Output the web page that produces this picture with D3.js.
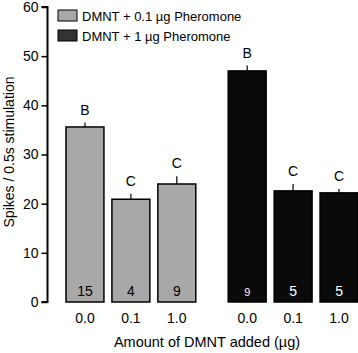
<!DOCTYPE html>
<html>
<head>
<script src="https://d3js.org/d3.v7.min.js"></script>
<style>
  body { margin: 0; background: #fff; }
  text { font-family: "Liberation Sans", Arial, sans-serif; fill: #000; }
</style>
</head>
<body>
<svg class="chart"></svg>
<script>
var svgWidth = 358, svgHeight = 353;

// data
var groups = ["0.1", "1"];
var groupNames = ["DMNT + 0.1 \u00b5g Pheromone", "DMNT + 1 \u00b5g Pheromone"];
var doses = ["0.0", "0.1", "1.0"];
var means = [[35.6, 20.9, 24.0], [47.0, 22.6, 22.2]];
var errors = [[0.9, 1.1, 1.6], [1.1, 1.4, 0.8]];
var letters = [["B", "C", "C"], ["B", "C", "C"]];
var counts = [["15", "4", "9"], ["9", "5", "5"]];
var yTicks = [0, 10, 20, 30, 40, 50, 60];
var colors = ["#a8a8a8", "#0a0a0a"];

var rows = [];
groups.forEach(function (g, gi) {
  doses.forEach(function (d, di) {
    rows.push({ group: g, gi: gi, dose: d, mean: means[gi][di], err: errors[gi][di],
                letter: letters[gi][di], n: counts[gi][di] });
  });
});

var svg = d3.select(".chart").attr("width", svgWidth).attr("height", svgHeight);

var yScale = d3.scaleLinear().domain([0, 60]).range([302, 7]);
var xOuter = d3.scaleBand().domain(groups).range([66, 358]).paddingInner(0.2).paddingOuter(0);
var xInner = d3.scaleBand().domain(doses).range([0, xOuter.bandwidth()]).paddingInner(0.174).paddingOuter(0);
var xPos = function (r) { return xOuter(r.group) + xInner(r.dose); };
var xMid = function (r) { return xPos(r) + xInner.bandwidth() / 2; };

// y axis
var yAxis = d3.axisLeft(yScale).tickValues(yTicks).tickSize(6).tickPadding(3);
var yg = svg.append("g").attr("transform", "translate(47.5,0)").call(yAxis);
yg.select(".domain").attr("stroke-width", 2).attr("d", "M-6," + yScale(0) + "H0V" + yScale(60) + "H-6");
yg.selectAll(".tick line").attr("stroke-width", 1.5);
yg.selectAll(".tick text").style("font-size", "14px").style("font-family", "Liberation Sans, Arial, sans-serif");

svg.append("text")
  .attr("transform", "translate(14," + 152 + ") rotate(-90)")
  .attr("text-anchor", "middle")
  .style("font-size", "14px")
  .text("Spikes / 0.5s stimulation");

// bars
var bars = svg.selectAll(".bar").data(rows).enter().append("g").attr("class", "bar");

bars.append("line")
  .attr("x1", xMid).attr("x2", xMid)
  .attr("y1", function (r) { return yScale(r.mean); })
  .attr("y2", function (r) { return yScale(r.mean + r.err); })
  .attr("stroke", "#000").attr("stroke-width", 1.2);

bars.append("rect")
  .attr("x", xPos)
  .attr("y", function (r) { return yScale(r.mean); })
  .attr("width", xInner.bandwidth())
  .attr("height", function (r) { return yScale(0) - yScale(r.mean); })
  .attr("fill", function (r) { return colors[r.gi]; })
  .attr("stroke", "#000").attr("stroke-width", 1.5);

bars.append("text")
  .attr("x", xMid)
  .attr("y", function (r) { return yScale(r.mean + r.err) - 8; })
  .attr("text-anchor", "middle")
  .style("font-size", "14px")
  .text(function (r) { return r.letter; });

bars.append("text")
  .attr("x", xMid)
  .attr("y", 296)
  .attr("text-anchor", "middle")
  .style("font-size", function (r) { return r.n === "9" && r.gi === 1 ? "11px" : "14px"; })
  .style("fill", function (r) { return r.gi === 1 ? "#fff" : "#000"; })
  .text(function (r) { return r.n; });

// x labels
bars.append("text")
  .attr("x", xMid)
  .attr("y", 323)
  .attr("text-anchor", "middle")
  .style("font-size", "14px")
  .text(function (r) { return r.dose; });

svg.append("text")
  .attr("x", 207).attr("y", 347)
  .attr("text-anchor", "middle")
  .style("font-size", "14.5px")
  .text("Amount of DMNT added (\u00b5g)");

// legend
var legend = svg.selectAll(".legend").data(groupNames).enter().append("g")
  .attr("transform", function (d, i) { return "translate(58," + (10 + i * 20) + ")"; });
legend.append("rect").attr("width", 19).attr("height", 11)
  .attr("fill", function (d, i) { return i === 1 ? "#333" : colors[i]; })
  .attr("stroke", "#000").attr("stroke-width", 1);
legend.append("text").attr("x", 24).attr("y", 10.5).style("font-size", "13px").text(function (d) { return d; });
</script>
</body>
</html>
